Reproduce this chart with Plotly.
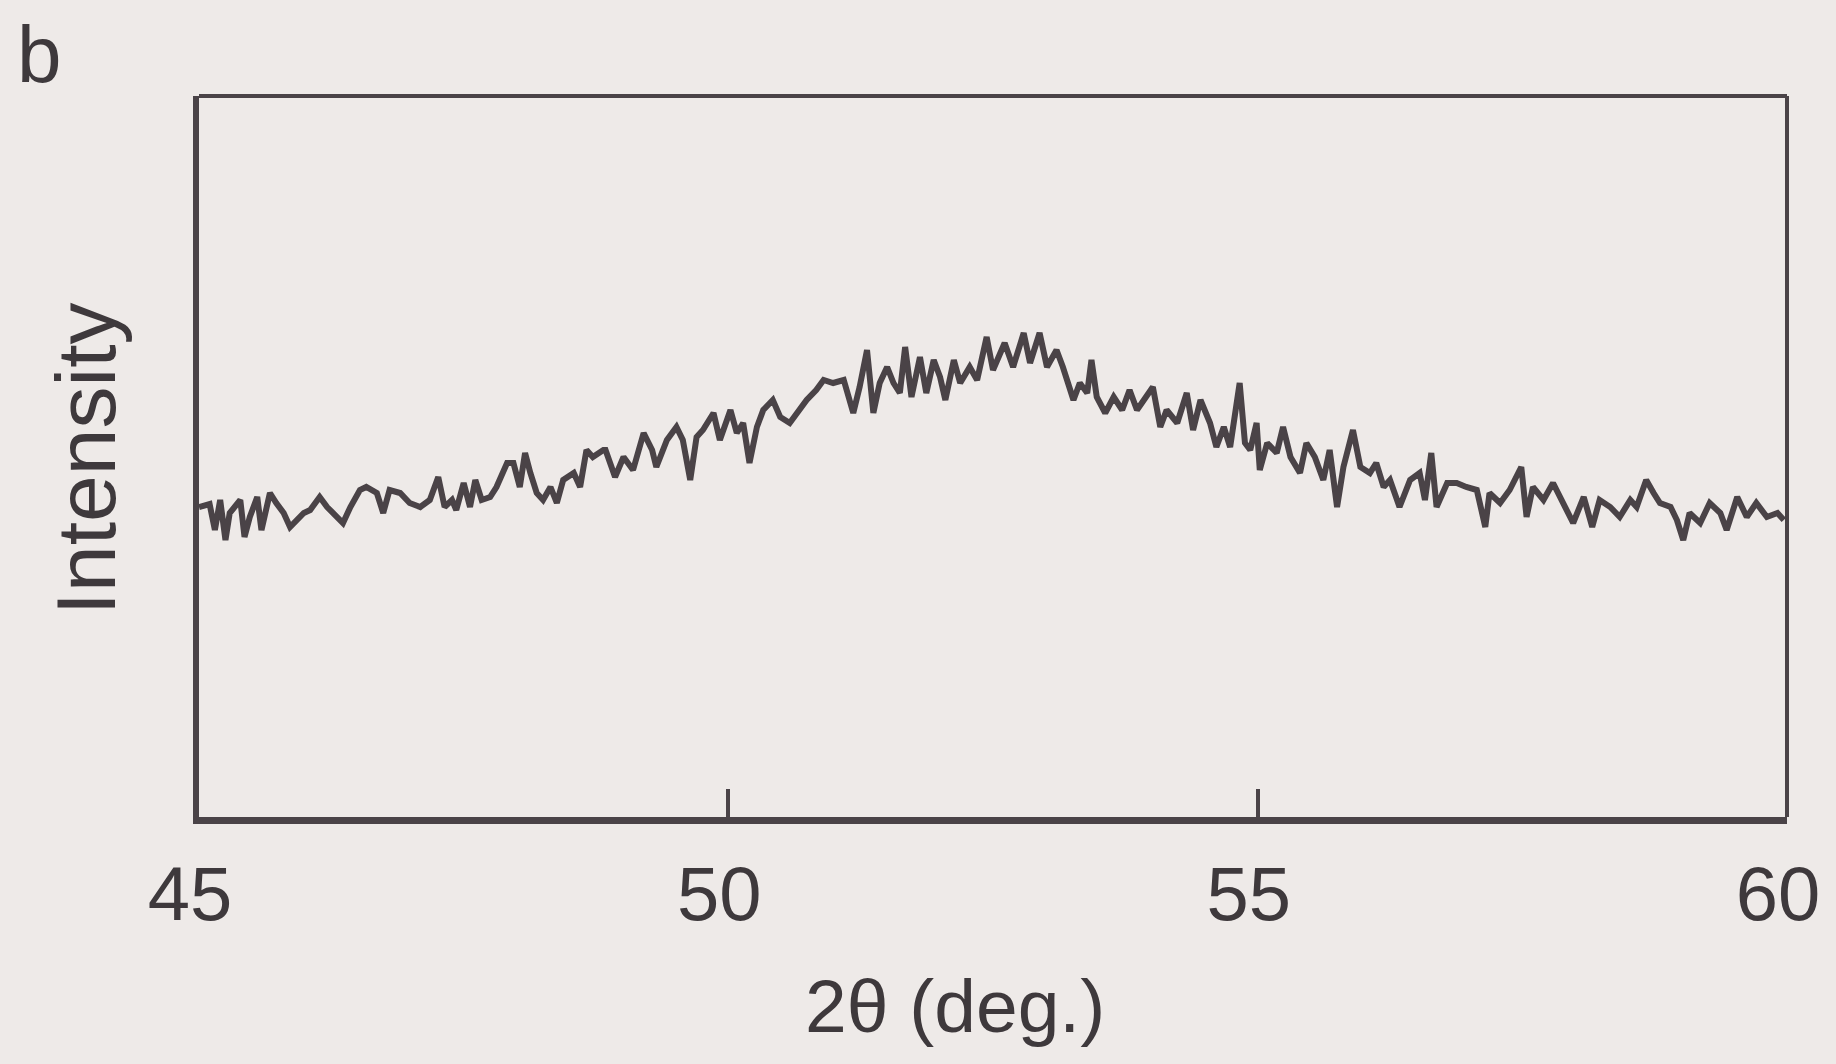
import plotly.graph_objects as go

# 2theta (deg.) and intensity (arbitrary units)
two_theta = [
    45.00, 45.10, 45.15, 45.20, 45.25, 45.29, 45.39, 45.43, 45.48, 45.55, 45.59,
    45.67, 45.73, 45.80, 45.86, 45.92, 45.99, 46.05, 46.14, 46.21, 46.27, 46.36,
    46.43, 46.52, 46.58, 46.68, 46.74, 46.80, 46.90, 46.99, 47.09, 47.18, 47.26,
    47.32, 47.39, 47.43, 47.50, 47.56, 47.61, 47.67, 47.75, 47.81, 47.91, 47.97,
    48.03, 48.08, 48.13, 48.19, 48.25, 48.32, 48.38, 48.44, 48.54, 48.60, 48.66,
    48.72, 48.82,
    48.84, 48.93, 49.01, 49.10, 49.20, 49.28, 49.32, 49.42, 49.51, 49.57, 49.64,
    49.70, 49.76, 49.86, 49.92, 50.02, 50.08, 50.14, 50.20, 50.27, 50.33, 50.42,
    50.49, 50.58, 50.65, 50.74, 50.83, 50.90, 50.99, 51.09, 51.18, 51.24, 51.31,
    51.37, 51.43, 51.50, 51.56, 51.62, 51.67, 51.73, 51.81, 51.87, 51.94, 52.00,
    52.05, 52.13, 52.19, 52.28, 52.35, 52.44, 52.50, 52.57,
    52.61, 52.69, 52.79, 52.85, 52.94, 53.01, 53.10, 53.16, 53.26, 53.32, 53.39,
    53.43, 53.48, 53.56, 53.64, 53.72, 53.79, 53.86, 53.92, 54.01, 54.08, 54.14,
    54.24, 54.33, 54.39, 54.46, 54.55, 54.61, 54.68, 54.74, 54.83, 54.88, 54.93,
    54.99, 55.02, 55.09, 55.18, 55.24, 55.31, 55.40, 55.46, 55.54, 55.62, 55.68,
    55.75, 55.81, 55.90, 55.97, 56.06, 56.12, 56.19,
    56.25, 56.34, 56.44, 56.53, 56.58, 56.64, 56.69, 56.79, 56.88, 56.97, 57.07,
    57.15, 57.19, 57.29, 57.38, 57.49, 57.54, 57.60, 57.70, 57.79, 57.89, 57.98,
    58.08, 58.16, 58.23, 58.33, 58.42, 58.52, 58.58, 58.67, 58.74, 58.80, 58.90,
    58.96, 59.02, 59.08, 59.18, 59.27, 59.37, 59.43, 59.53, 59.62, 59.71, 59.81,
    59.91, 59.97,
]
intensity = [
    310, 313, 287, 317, 277, 304, 317, 280, 300, 320, 287,
    324, 314, 304, 290, 297, 304, 307, 320, 310, 304, 294,
    310, 327, 330, 324, 304, 327, 324, 314, 310, 317, 340,
    310, 317, 307, 334, 310, 337, 317, 320, 330, 354, 354,
    330, 364, 344, 324, 317, 330, 314, 337, 344, 330, 367,
    360, 367,
    367, 340, 360, 347, 384, 367, 350, 377, 390, 377, 337,
    380, 387, 404, 377, 407, 384, 394, 354, 390, 407, 417,
    400, 394, 404, 417, 427, 437, 434, 437, 404, 430, 467,
    404, 434, 450, 434, 424, 470, 420, 460, 424, 457, 440,
    417, 457, 434, 450, 437, 480, 447, 464,
    474, 450, 484, 454, 484, 450, 467, 450, 417, 434, 424,
    457, 420, 404, 420, 407, 427, 407, 417, 430, 390, 407,
    394, 424, 387, 417, 394, 370, 390, 370, 434, 374, 367,
    394, 347, 374, 364, 390, 360, 344, 374, 360, 337, 367,
    310, 350, 387, 350, 344, 354, 330,
    337, 310, 337, 344, 317, 364, 310, 334, 334, 330, 327,
    290, 324, 314, 327, 350, 300, 330, 317, 334, 314, 294,
    320, 290, 317, 310, 300, 317, 310, 337, 324, 314, 310,
    297, 277, 304, 294, 314, 304, 287, 320, 300, 314, 300,
    304, 297,
]

x_tick_vals = [45, 50, 55, 60]
x_tick_text = ["45", "50", "55", "60"]

BG = "#eeeae8"
INK = "#4a4347"
TXT = "#3e393c"

fig = go.Figure()
fig.add_trace(go.Scatter(
    x=two_theta, y=intensity, mode="lines",
    line=dict(color=INK, width=6), showlegend=False, hoverinfo="skip",
))

fig.update_layout(
    width=1836, height=1064,
    paper_bgcolor=BG, plot_bgcolor=BG,
    margin=dict(l=199, r=49, t=96, b=247),
    font=dict(family="Liberation Sans, Arial, sans-serif", color=TXT),
    xaxis=dict(
        range=[45, 60], tickvals=x_tick_vals, ticktext=x_tick_text,
        ticks="inside", ticklen=28, tickwidth=4, tickcolor=INK,
        showline=True, linecolor=INK, linewidth=7, mirror=False,
        showgrid=False, zeroline=False,
        tickfont=dict(size=76, color=TXT), ticklabelstandoff=5,
        ticklabelshift=-9,
    ),
    yaxis=dict(
        range=[0, 721], showticklabels=False, ticks="",
        showline=True, linecolor=INK, linewidth=6, mirror=False,
        showgrid=False, zeroline=False,
    ),
    shapes=[
        dict(type="line", xref="paper", yref="paper", x0=0, x1=1, y0=1, y1=1,
             line=dict(color=INK, width=4)),
        dict(type="line", xref="paper", yref="paper", x0=1, x1=1, y0=0, y1=1,
             line=dict(color=INK, width=4)),
    ],
    annotations=[
        dict(text="b", xref="paper", yref="paper", x=-0.116, y=1.058,
             xanchor="left", yanchor="middle", showarrow=False,
             font=dict(size=80, color=TXT)),
        dict(text="Intensity", xref="paper", yref="paper", x=-0.071, y=0.4965,
             xanchor="center", yanchor="middle", textangle=-90, showarrow=False,
             font=dict(size=84, color=TXT)),
        dict(text="2θ (deg.)", xref="paper", yref="paper", x=0.476, y=-0.262,
             xanchor="center", yanchor="middle", showarrow=False,
             font=dict(size=75, color=TXT)),
    ],
)

fig.write_html(
    "out.html",
    config={"displayModeBar": False},
    post_script="document.body.style.margin='0';document.body.style.background='#eeeae8';",
)
